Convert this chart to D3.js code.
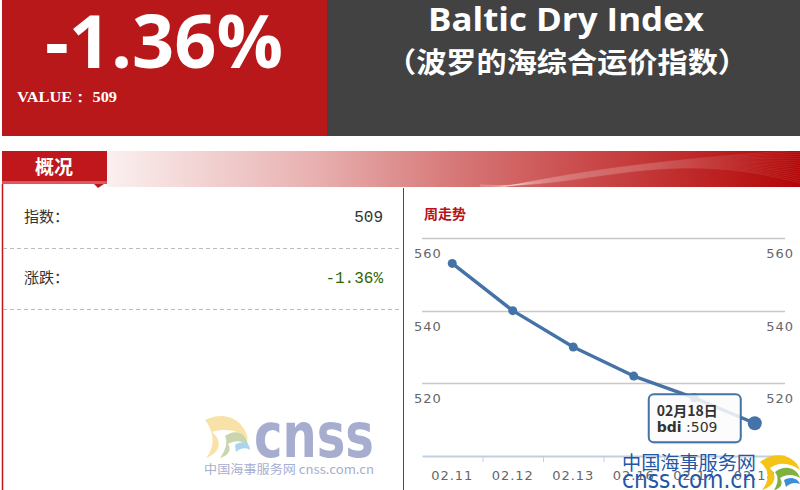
<!DOCTYPE html>
<html><head><meta charset="utf-8">
<script src="https://cdn.jsdelivr.net/npm/d3@7"></script>
<style>
html,body{margin:0;padding:0;background:#fff;}
svg{display:block;}
</style></head>
<body>
<svg id="c" width="800" height="490"></svg>
<script>
// ---- data ----
const dates = ["02.11","02.12","02.13","02.16","02.17","02.18"];
const bdi = [553, 540, 530, 522, 516, 509];
const yTicks = [520, 540, 560];
const headline = "-1.36%";
const valueLabel = "VALUE\uFF1A 509";
const titleEn = "Baltic Dry Index";
const titleCn = "\uFF08\u6CE2\u7F57\u7684\u6D77\u7EFC\u5408\u8FD0\u4EF7\u6307\u6570\uFF09";
const rows = [["\u6307\u6570\uFF1A","509","#333"],["\u6DA8\u8DCC\uFF1A","-1.36%","#336600"]];
const tipDate = "02\u670818\u65E5";

const svg = d3.select("#c");
const defs = svg.append("defs");

// ---- header ----
svg.append("rect").attr("x",2).attr("y",0).attr("width",325).attr("height",136).attr("fill","#b8181a");
svg.append("rect").attr("x",327).attr("y",0).attr("width",473).attr("height",136).attr("fill","#424242");
svg.append("text").attr("x",164).attr("y",68).attr("text-anchor","middle")
  .attr("font-family","Open Sans").attr("font-weight","bold").attr("font-size",74)
  .attr("fill","#fff").attr("textLength",238).attr("lengthAdjust","spacingAndGlyphs").text(headline);
svg.append("text").attr("x",17).attr("y",102)
  .attr("font-family","Liberation Serif").attr("font-weight","bold").attr("font-size",15)
  .attr("fill","#fff").attr("textLength",100).attr("lengthAdjust","spacingAndGlyphs").text(valueLabel);
svg.append("text").attr("x",566).attr("y",31).attr("text-anchor","middle")
  .attr("font-family","Open Sans").attr("font-weight","bold").attr("font-size",33)
  .attr("fill","#fff").attr("textLength",276).attr("lengthAdjust","spacingAndGlyphs").text(titleEn);
svg.append("text").attr("x",567).attr("y",73).attr("text-anchor","middle")
  .attr("font-family","Noto Sans CJK SC").attr("font-weight","bold").attr("font-size",28)
  .attr("fill","#fff").attr("textLength",362).attr("lengthAdjust","spacingAndGlyphs").text(titleCn);

// ---- banner ----
const g1 = defs.append("linearGradient").attr("id","bg").attr("x1","0").attr("x2","1");
[[0,"#fbf0f0"],[0.3,"#e8b0b0"],[0.5,"#d77878"],[0.7,"#c94848"],[1,"#b30606"]].forEach(s=>
  g1.append("stop").attr("offset",s[0]).attr("stop-color",s[1]));
svg.append("rect").attr("x",107).attr("y",151).attr("width",693).attr("height",36).attr("fill","url(#bg)");
defs.append("clipPath").attr("id","bc").append("rect").attr("x",107).attr("y",151).attr("width",693).attr("height",36);
const wave = svg.append("g").attr("clip-path","url(#bc)").attr("fill","none").attr("stroke","#fff")
  .attr("stroke-opacity",0.12).attr("stroke-width",0.8);
for(let i=0;i<16;i++){
  wave.append("path").attr("d",`M480,${192-i*0.5} C580,${170+i*1.5} 660,${160-i} 800,${150+i*2.2}`);
}
svg.append("rect").attr("x",2).attr("y",151).attr("width",105).attr("height",30).attr("fill","#c0171d");
svg.append("rect").attr("x",2).attr("y",181).attr("width",105).attr("height",3).attr("fill","#d9585c");
svg.append("path").attr("d","M94,184 L104,184 L98,188 Z").attr("fill","#b8181a");
svg.append("text").attr("x",54).attr("y",174).attr("text-anchor","middle")
  .attr("font-family","Noto Sans CJK SC").attr("font-weight","bold").attr("font-size",19)
  .attr("fill","#fff").text("\u6982\u51B5");

// ---- left panel ----
svg.append("line").attr("x1",2.5).attr("x2",2.5).attr("y1",184).attr("y2",490).attr("stroke","#c0171d").attr("stroke-width",1.5);
svg.append("line").attr("x1",403.5).attr("x2",403.5).attr("y1",188).attr("y2",490).attr("stroke","#c0171d").attr("stroke-width",1);
rows.forEach((r,i)=>{
  const yb = 222 + i*61;
  svg.append("text").attr("x",24).attr("y",yb).attr("font-family","Noto Sans CJK SC")
    .attr("font-size",15).attr("fill","#333").text(r[0]);
  svg.append("text").attr("x",383).attr("y",yb).attr("text-anchor","end").attr("font-family","Liberation Mono")
    .attr("font-size",16).attr("fill",r[2]).text(r[1]);
  svg.append("line").attr("x1",3).attr("x2",401).attr("y1",248.5+i*61).attr("y2",248.5+i*61)
    .attr("stroke","#bbb").attr("stroke-dasharray","4,3");
});

// left watermark (faded cnss logo)
const wm = svg.append("g").attr("opacity",0.75);
wm.append("path").attr("d","M205,420 C225,410 245,420 248,440 C240,430 225,428 212,432 C222,440 222,452 206,458 C216,446 214,432 205,420 Z").attr("fill","#f8d98a");
wm.append("path").attr("d","M225,436 C235,428 248,433 248,446 C243,440 235,440 228,444 C232,450 228,456 220,458 C226,450 228,442 225,436 Z").attr("fill","#b7c88e");
wm.append("path").attr("d","M235,445 C242,440 250,442 250,450 C246,447 240,448 236,452 Z").attr("fill","#8fc7e6");
wm.append("text").attr("x",254).attr("y",457).attr("font-family","DejaVu Sans").attr("font-weight","bold")
  .attr("font-size",62).attr("fill","#8a92c0").attr("textLength",120).attr("lengthAdjust","spacingAndGlyphs").text("cnss");
wm.append("text").attr("x",204).attr("y",474).attr("font-family","Noto Sans CJK SC")
  .attr("font-size",12).attr("fill","#8a92c0").attr("textLength",170).attr("lengthAdjust","spacingAndGlyphs").text("\u4E2D\u56FD\u6D77\u4E8B\u670D\u52A1\u7F51 cnss.com.cn");

// ---- chart ----
svg.append("text").attr("x",424).attr("y",219).attr("font-family","Noto Sans CJK SC").attr("font-weight","bold")
  .attr("font-size",14).attr("fill","#b5121b").text("\u5468\u8D70\u52BF");

const x = d3.scaleBand().domain(dates).range([422,785]);
const y = d3.scaleLinear().domain([500,560]).range([456,238]);

const grid = svg.append("g");
grid.selectAll("line").data(yTicks).join("line")
  .attr("x1",422).attr("x2",785).attr("y1",d=>Math.round(y(d))+0.5).attr("y2",d=>Math.round(y(d))+0.5)
  .attr("stroke","#c8c8c8").attr("stroke-width",1.5);
grid.selectAll("text.l").data(yTicks).join("text").attr("class","l")
  .attr("x",414).attr("y",d=>y(d)+20).attr("font-family","DejaVu Sans").attr("font-size",13)
  .attr("letter-spacing",1).attr("fill","#666").text(d=>d);
grid.selectAll("text.r").data(yTicks).join("text").attr("class","r")
  .attr("x",794).attr("y",d=>y(d)+20).attr("text-anchor","end").attr("font-family","DejaVu Sans").attr("font-size",13)
  .attr("letter-spacing",1).attr("fill","#666").text(d=>d);

const xAxis = svg.append("g").attr("transform","translate(0,456)")
  .call(d3.axisBottom(x).tickSize(0).tickPadding(15));
xAxis.select(".domain").attr("stroke","#c0d0e0").attr("stroke-width",2);
xAxis.selectAll("text").attr("font-family","DejaVu Sans").attr("font-size",13).attr("letter-spacing",1).attr("fill","#666");
svg.append("g").selectAll("line").data(dates.slice(1)).join("line")
  .attr("x1",d=>x(d)+0.5).attr("x2",d=>x(d)+0.5).attr("y1",456).attr("y2",462).attr("stroke","#c0d0e0");

const cx = (d,i)=>x(dates[i])+x.bandwidth()/2;
const line = d3.line().x((d,i)=>cx(d,i)).y(d=>y(d));
svg.append("path").datum(bdi).attr("d",line).attr("fill","none").attr("stroke","#4572a7").attr("stroke-width",3.4)
  .attr("stroke-linejoin","round");
svg.append("g").selectAll("circle").data(bdi).join("circle")
  .attr("cx",(d,i)=>cx(d,i)).attr("cy",d=>y(d)).attr("r",(d,i)=>i===bdi.length-1?7:4.5).attr("fill","#4572a7");

// tooltip
const li = bdi.length-1, px = cx(bdi[li],li), py = y(bdi[li]);
const tip = svg.append("g").attr("transform",`translate(${px-106},${py-29})`);
tip.append("rect").attr("x",1).attr("y",2).attr("width",92).attr("height",48).attr("rx",5).attr("fill","#000").attr("opacity",0.08);
tip.append("rect").attr("width",92).attr("height",48).attr("rx",5).attr("fill","#fff").attr("fill-opacity",0.85)
  .attr("stroke","#4572a7").attr("stroke-width",2);
tip.append("text").attr("x",8).attr("y",22).attr("font-family","Noto Sans CJK SC").attr("font-weight","bold")
  .attr("font-size",14).attr("fill","#333").text(tipDate);
const t2 = tip.append("text").attr("x",8).attr("y",38).attr("font-family","DejaVu Sans").attr("font-size",14).attr("fill","#333");
t2.append("tspan").attr("font-weight","bold").text("bdi");
t2.append("tspan").text(" :" + bdi[li]);

// bottom-right watermark
const br = svg.append("g");
br.append("text").attr("x",622).attr("y",470).attr("font-family","Noto Sans CJK SC").attr("font-size",19)
  .attr("fill","#2456a6").attr("textLength",134).attr("lengthAdjust","spacingAndGlyphs").text("\u4E2D\u56FD\u6D77\u4E8B\u670D\u52A1\u7F51");
br.append("text").attr("x",622).attr("y",488).attr("font-family","DejaVu Sans").attr("font-size",24)
  .attr("fill","#2456a6").attr("textLength",134).attr("lengthAdjust","spacingAndGlyphs").text("cnss.com.cn");
br.append("path").attr("d","M760,462 C775,450 795,455 800,470 C790,462 778,462 770,468 C778,476 775,486 762,490 C770,480 770,470 760,462 Z").attr("fill","#f5c316");
br.append("path").attr("d","M775,472 C785,464 797,468 800,478 C794,474 786,474 780,478 C784,484 780,489 774,490 C778,484 779,477 775,472 Z").attr("fill","#7fb040");
br.append("path").attr("d","M784,480 C790,476 798,478 800,484 C795,482 790,483 786,487 Z").attr("fill","#3b8fd4");
</script>
</body></html>
